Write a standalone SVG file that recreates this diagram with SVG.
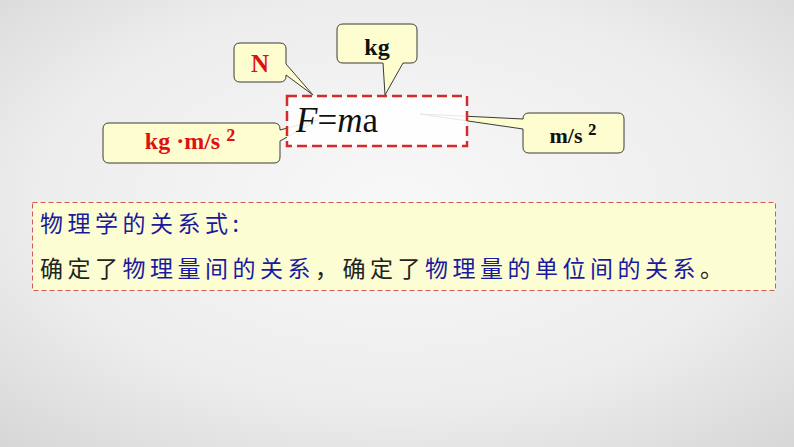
<svg xmlns="http://www.w3.org/2000/svg" width="794" height="447" viewBox="0 0 794 447">
  <defs>
    <radialGradient id="bg" cx="50%" cy="45%" r="75%">
      <stop offset="0" stop-color="#f8f8f8"/>
      <stop offset="0.6" stop-color="#ededed"/>
      <stop offset="1" stop-color="#d6d6d6"/>
    </radialGradient>
  </defs>
  <style>
    .callout { fill: #fdfdd0; stroke: #3a3a3a; stroke-width: 1; }
    .lbl { font-family: "Liberation Serif", "Times New Roman", serif; font-weight: bold; font-size: 22px; text-anchor: middle; }
    .red { fill: #e01010; }
    .blk { fill: #111111; }
    .sup { font-size: 30px; }
    .cn { font-family: "Noto Sans CJK SC", sans-serif; font-size: 23px; letter-spacing: 4.5px; }
    .blue { fill: #1a1a9e; }
    .dark { fill: #222222; }
  </style>
  <rect width="794" height="447" fill="url(#bg)"/>

  <g id="connectors">
  </g>

  <g id="callout-N">
    <path class="callout" d="M240,43 H280 Q286,43 286,49 V64 L313,95 L286,75 V76 Q286,82 280,82 H240 Q234,82 234,76 V49 Q234,43 240,43 Z"/>
    <text class="lbl red" x="260" y="72" style="font-size:25px">N</text>
  </g>

  <g id="callout-kg">
    <path class="callout" d="M343,24 H411 Q417,24 417,30 V57 Q417,63 411,63 H403 L385,95 L383,63 H343 Q337,63 337,57 V30 Q337,24 343,24 Z"/>
    <text class="lbl blk" x="377" y="55" style="font-size:24px">kg</text>
  </g>

  <g id="callout-kgms2">
    <path class="callout" d="M109,123 H274 Q280,123 280,129 V130 L318,120 L280,141 V157 Q280,163 274,163 H109 Q103,163 103,157 V129 Q103,123 109,123 Z"/>
    <text class="lbl red" x="190" y="149" style="font-size:24px">kg ·m/s <tspan class="sup">²</tspan></text>
  </g>

  <g id="callout-ms2">
    <path class="callout" d="M529,113 H618 Q624,113 624,119 V147 Q624,153 618,153 H529 Q523,153 523,147 V129 L420,114 L523,119 Q523,113 529,113 Z"/>
    <text class="lbl blk" x="573" y="143">m/s <tspan class="sup" style="font-size:28px">²</tspan></text>
  </g>

  <g id="formula">
    <rect x="287" y="96" width="180" height="50" fill="#ffffff" fill-opacity="0.88" stroke="#d42a2a" stroke-width="2.5" stroke-dasharray="10 5"/>
    <text x="296" y="132" font-family="Liberation Serif, 'Times New Roman', serif" font-size="35" fill="#111"><tspan font-style="italic">F</tspan>=<tspan font-style="italic">m</tspan>a</text>
  </g>

  <g id="note">
    <rect x="32.5" y="202.5" width="743" height="88" fill="#fdfdd3" stroke="#d05a5a" stroke-width="1" stroke-dasharray="5 3"/>
    <text class="cn blue" x="40" y="232">物理学的关系式:</text>
    <text class="cn" x="40" y="277"><tspan class="dark">确定了</tspan><tspan class="blue">物理量间的关系</tspan><tspan class="dark">，确定了</tspan><tspan class="blue">物理量的单位间的关系</tspan><tspan class="dark">。</tspan></text>
  </g>
</svg>
